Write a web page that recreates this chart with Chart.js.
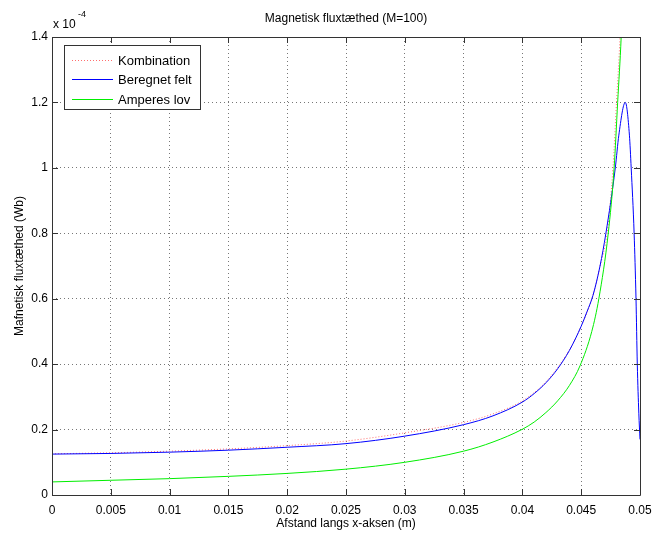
<!DOCTYPE html>
<html>
<head>
<meta charset="utf-8">
<script src="https://cdn.jsdelivr.net/npm/chart.js@4"></script>
<style>
  html, body { margin: 0; padding: 0; background: #fff; }
  #wrap { width: 653px; height: 533px; }
</style>
</head>
<body>
<div id="wrap"><canvas id="fluxChart" width="653" height="533"></canvas></div>
<script>
// values, y in units of 1e-4 Wb
var blueX = [0, 0.005, 0.01, 0.015, 0.02, 0.025, 0.03, 0.035, 0.0375, 0.04, 0.041, 0.042, 0.043, 0.044, 0.045, 0.0455, 0.046, 0.0466, 0.0471, 0.0479, 0.0482, 0.04875, 0.0491, 0.04925, 0.0495, 0.04966, 0.04977, 0.0499, 0.05];
var blueY = [0.125, 0.127, 0.131, 0.137, 0.146, 0.157, 0.180, 0.215, 0.242, 0.284, 0.310, 0.343, 0.386, 0.442, 0.516, 0.561, 0.610, 0.700, 0.800, 1.000, 1.100, 1.200, 1.100, 1.000, 0.800, 0.600, 0.400, 0.250, 0.170];

var greenX = [0, 0.005, 0.01, 0.015, 0.02, 0.025, 0.03, 0.035, 0.0375, 0.04, 0.041, 0.042, 0.043, 0.044, 0.0449, 0.0459, 0.0465, 0.0473, 0.0478, 0.0481, 0.0484, 0.0486];
var greenY = [0.040, 0.045, 0.050, 0.057, 0.066, 0.079, 0.100, 0.134, 0.162, 0.201, 0.223, 0.252, 0.288, 0.335, 0.395, 0.500, 0.600, 0.800, 1.000, 1.200, 1.400, 1.600];

var redX = [0, 0.005, 0.01, 0.015, 0.02, 0.025, 0.03, 0.035, 0.0375, 0.04, 0.042, 0.044, 0.045, 0.046, 0.0466, 0.0472, 0.0477, 0.048, 0.0483, 0.0485];
var redY = [0.126, 0.129, 0.134, 0.141, 0.151, 0.165, 0.190, 0.222, 0.248, 0.288, 0.346, 0.444, 0.516, 0.610, 0.700, 0.800, 1.000, 1.200, 1.400, 1.600];

var xTicks = [0, 0.005, 0.01, 0.015, 0.02, 0.025, 0.03, 0.035, 0.04, 0.045, 0.05];
var yTicks = [0, 0.2, 0.4, 0.6, 0.8, 1, 1.2, 1.4];

var seriesNames = ['Kombination', 'Beregnet felt', 'Amperes lov'];
var lineColors = ['rgb(255, 110, 110)', 'rgb(0, 0, 255)', 'rgb(0, 238, 0)'];
var chartTitle = 'Magnetisk fluxtæthed (M=100)';
var xTitle = 'Afstand langs x-aksen (m)';
var yTitle = 'Mafnetisk fluxtæthed (Wb)';

var FONT = '"Liberation Sans", Arial, Helvetica, sans-serif';

function toPoints(xs, ys) {
    return xs.map(function (x, i) { return { x: x, y: ys[i] }; });
}

// MATLAB style frame, inward ticks, title, exponent, axis labels, legend
var matlabFrame = {
    id: 'matlabFrame',
    afterDraw: function (chart) {
        var ctx = chart.ctx;
        var a = chart.chartArea;
        var xs = chart.scales.x, ys = chart.scales.y;
        ctx.save();
        ctx.strokeStyle = '#333';
        ctx.lineWidth = 1;
        ctx.beginPath();
        ctx.rect(Math.round(a.left) + 0.5, Math.round(a.top) + 0.5, Math.round(a.right - a.left), Math.round(a.bottom - a.top));
        ctx.stroke();
        ctx.beginPath();
        xTicks.forEach(function (t) {
            var px = Math.round(xs.getPixelForValue(t)) + 0.5;
            ctx.moveTo(px, a.bottom); ctx.lineTo(px, a.bottom - 6);
            ctx.moveTo(px, a.top); ctx.lineTo(px, a.top + 6);
        });
        yTicks.forEach(function (t) {
            var py = Math.round(ys.getPixelForValue(t)) + 0.5;
            ctx.moveTo(a.left, py); ctx.lineTo(a.left + 6, py);
            ctx.moveTo(a.right, py); ctx.lineTo(a.right - 6, py);
        });
        ctx.stroke();

        ctx.fillStyle = '#000';
        ctx.font = '12px ' + FONT;
        ctx.textAlign = 'center';
        ctx.textBaseline = 'middle';
        ctx.fillText(chartTitle, (a.left + a.right) / 2, 19);
        ctx.fillText(xTitle, (a.left + a.right) / 2, 524);
        ctx.save();
        ctx.translate(20, (a.top + a.bottom) / 2);
        ctx.rotate(-Math.PI / 2);
        ctx.fillText(yTitle, 0, 0);
        ctx.restore();

        // exponent
        ctx.textAlign = 'left';
        ctx.fillText('x 10', 53, 25);
        ctx.font = '9px ' + FONT;
        ctx.fillText('-4', 78, 15);

        // legend
        var lx = 64, ly = 45, lw = 136, lh = 64;
        ctx.fillStyle = '#fff';
        ctx.fillRect(lx, ly, lw, lh);
        ctx.strokeStyle = '#333';
        ctx.strokeRect(lx + 0.5, ly + 0.5, lw, lh);
        var rows = [60, 79, 99];
        for (var i = 0; i < seriesNames.length; i++) {
            ctx.fillStyle = lineColors[i];
            if (i === 0) {
                for (var d = 72; d < 113; d += 3) ctx.fillRect(d, rows[i], 1, 1);
            } else {
                ctx.fillRect(72, rows[i], 41, 1);
            }
            ctx.fillStyle = '#000';
            ctx.font = '13px ' + FONT;
            ctx.textBaseline = 'middle';
            ctx.fillText(seriesNames[i], 118, rows[i] + 1);
        }
        ctx.restore();
    }
};

var fluxChart = new Chart(document.getElementById('fluxChart'), {
    type: 'line',
    data: {
        datasets: [{
            label: seriesNames[0],
            data: toPoints(redX, redY),
            borderColor: lineColors[0],
            borderDash: [1, 2],
            borderWidth: 1,
            pointRadius: 0,
            cubicInterpolationMode: 'monotone',
            order: 3
        }, {
            label: seriesNames[1],
            data: toPoints(blueX, blueY),
            borderColor: lineColors[1],
            borderWidth: 1,
            pointRadius: 0,
            cubicInterpolationMode: 'monotone',
            order: 2
        }, {
            label: seriesNames[2],
            data: toPoints(greenX, greenY),
            borderColor: lineColors[2],
            borderWidth: 1,
            pointRadius: 0,
            cubicInterpolationMode: 'monotone',
            order: 1
        }]
    },
    options: {
        responsive: false,
        animation: false,
        layout: { padding: { top: 37, right: 13, left: 0, bottom: 0 } },
        plugins: {
            legend: { display: false },
            title: { display: false },
            tooltip: { enabled: false }
        },
        scales: {
            x: {
                type: 'linear',
                min: 0,
                max: 0.05,
                afterBuildTicks: function (scale) {
                    scale.ticks = xTicks.map(function (v) { return { value: v }; });
                },
                afterFit: function (scale) {
                    scale.height = 38;
                    scale.paddingLeft = 0;
                    scale.paddingRight = 0;
                },
                ticks: {
                    autoSkip: false,
                    maxRotation: 0,
                    padding: 8,
                    color: '#000',
                    font: { family: FONT, size: 12 },
                    callback: function (v) { return String(+v.toFixed(3)); }
                },
                grid: {
                    color: '#777',
                    drawTicks: false
                },
                border: { display: false, dash: [1, 3] }
            },
            y: {
                min: 0,
                max: 1.4,
                afterBuildTicks: function (scale) {
                    scale.ticks = yTicks.map(function (v) { return { value: v }; });
                },
                afterFit: function (scale) {
                    scale.width = 52;
                    scale.paddingTop = 0;
                    scale.paddingBottom = 0;
                },
                ticks: {
                    autoSkip: false,
                    padding: 4,
                    color: '#000',
                    font: { family: FONT, size: 12 },
                    callback: function (v) { return String(+v.toFixed(1)); }
                },
                grid: {
                    color: '#777',
                    drawTicks: false
                },
                border: { display: false, dash: [1, 3] }
            }
        }
    },
    plugins: [matlabFrame]
});
</script>
</body>
</html>
